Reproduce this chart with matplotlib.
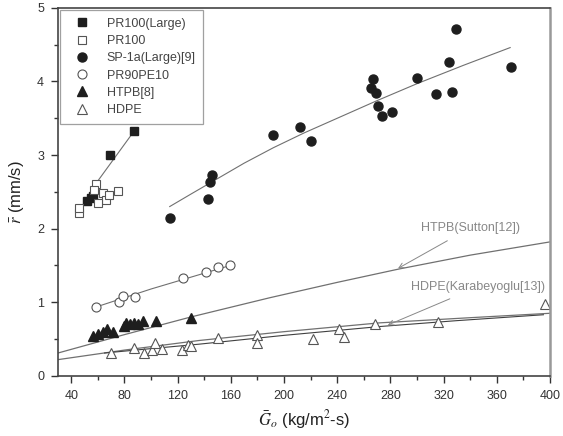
import matplotlib
matplotlib.use("Agg")
import matplotlib.pyplot as plt
from matplotlib.ticker import MultipleLocator

plt.rcParams['font.family'] = ['Liberation Sans', 'DejaVu Sans']
plt.rcParams['mathtext.fontset'] = 'stix'

# measured points (G_o in kg/m2-s, r in mm/s)
pr100_large_g = [52, 55, 56, 69, 87]
pr100_large_r = [2.37, 2.42, 2.44, 3.00, 3.32]

pr100_g = [45.5, 46, 58.6, 57.4, 63.6, 66, 60, 74.9, 68]
pr100_r = [2.21, 2.28, 2.60, 2.53, 2.49, 2.39, 2.35, 2.51, 2.46]

sp1a_g = [114, 143, 144, 146, 192, 212, 220, 265, 267, 269, 271, 274, 281,
          300, 314, 324, 326, 329, 371]
sp1a_r = [2.15, 2.40, 2.64, 2.73, 3.27, 3.38, 3.19, 3.91, 4.04, 3.84, 3.67,
          3.53, 3.59, 4.05, 3.83, 4.27, 3.85, 4.71, 4.19]

pr90_g = [58.6, 76, 79, 88, 124, 141, 150, 159]
pr90_r = [0.93, 1.00, 1.08, 1.07, 1.33, 1.41, 1.48, 1.50]

htpb_g = [56, 60, 64, 67, 71, 80, 81, 84, 87, 90, 94, 104, 130]
htpb_r = [0.54, 0.57, 0.59, 0.63, 0.59, 0.68, 0.72, 0.70, 0.72, 0.70, 0.74, 0.75, 0.78]

hdpe_g = [70, 87, 95, 101, 103, 108, 123, 128, 130, 150, 180, 180, 222, 241,
          245, 268, 316, 396]
hdpe_r = [0.31, 0.38, 0.31, 0.35, 0.44, 0.36, 0.35, 0.42, 0.40, 0.51, 0.56,
          0.44, 0.50, 0.64, 0.53, 0.71, 0.73, 0.97]

# fit / reference curves
fit_pr100_g = [56, 87]
fit_pr100_r = [2.55, 3.32]
fit_sp1a_g = [114, 130, 150, 170, 192, 215, 240, 270, 300, 335, 370]
fit_sp1a_r = [2.30, 2.47, 2.68, 2.89, 3.10, 3.30, 3.50, 3.74, 3.97, 4.22, 4.46]
fit_pr90_g = [56, 100, 161.5]
fit_pr90_r = [0.92, 1.18, 1.51]
sutton_g = [30, 80, 130, 189, 240, 286, 340, 400]
sutton_r = [0.31, 0.56, 0.80, 1.06, 1.27, 1.45, 1.64, 1.82]
karab_g = [30, 80, 136, 200, 272, 340, 400]
karab_r = [0.22, 0.35, 0.48, 0.60, 0.72, 0.79, 0.85]
fit_hdpe_g = [65, 100, 136, 200, 272, 330, 395]
fit_hdpe_r = [0.31, 0.37, 0.43, 0.55, 0.67, 0.75, 0.83]

fig = plt.figure(figsize=(5.63, 4.36), dpi=100)
ax = fig.add_axes([0.103, 0.138, 0.874, 0.844])

lc = '#707070'
mc = '#1e1e1e'
ax.plot(fit_pr100_g, fit_pr100_r, color=lc, lw=0.8)
ax.plot(fit_sp1a_g, fit_sp1a_r, color=lc, lw=0.8)
ax.plot(fit_pr90_g, fit_pr90_r, color=lc, lw=0.8)
ax.plot(sutton_g, sutton_r, color=lc, lw=0.9)
ax.plot(karab_g, karab_r, color=lc, lw=0.9)
ax.plot(fit_hdpe_g, fit_hdpe_r, color='#404040', lw=0.8)

ax.plot(pr100_large_g, pr100_large_r, 's', ms=6, color=mc, label='PR100(Large)')
ax.plot(pr100_g, pr100_r, 's', ms=6, mfc='white', mec='#555555', mew=0.8, label='PR100')
ax.plot(sp1a_g, sp1a_r, 'o', ms=6.5, color=mc, label='SP-1a(Large)[9]')
ax.plot(pr90_g, pr90_r, 'o', ms=6.5, mfc='white', mec='#555555', mew=0.8, label='PR90PE10')
ax.plot(htpb_g, htpb_r, '^', ms=7, color=mc, label='HTPB[8]')
ax.plot(hdpe_g, hdpe_r, '^', ms=7.5, mfc='white', mec='#555555', mew=0.8, label='HDPE')

ax.annotate('HTPB(Sutton[12])', xy=(285.7, 1.46), xytext=(340, 2.01),
            ha='center', va='center', fontsize=9, color='#888888',
            arrowprops=dict(arrowstyle='->', color='#888888', lw=0.7, shrinkA=6, shrinkB=0))
ax.annotate('HDPE(Karabeyoglu[13])', xy=(278, 0.69), xytext=(346, 1.21),
            ha='center', va='center', fontsize=9, color='#888888',
            arrowprops=dict(arrowstyle='->', color='#888888', lw=0.7, shrinkA=6, shrinkB=0))

ax.set_xlim(30, 400)
ax.set_ylim(0, 5)
ax.xaxis.set_major_locator(MultipleLocator(40))
ax.xaxis.set_minor_locator(MultipleLocator(20))
ax.yaxis.set_major_locator(MultipleLocator(1))
ax.yaxis.set_minor_locator(MultipleLocator(0.5))
ax.tick_params(which='major', direction='out', length=5, width=1, labelsize=9,
               colors='#333333', pad=5)
ax.tick_params(which='minor', direction='out', length=3, width=1, colors='#333333')

for side in ['left', 'bottom', 'top']:
    ax.spines[side].set_color('#444444')
    ax.spines[side].set_linewidth(1.2)
ax.spines['right'].set_color('#999999')
ax.spines['right'].set_linewidth(1.8)

ax.set_xlabel(r'$\bar{G}_o$ (kg/m$^2$-s)', fontsize=12, color='#222222', labelpad=5)
ax.set_ylabel(r'$\bar{r}$ (mm/s)', fontsize=12, color='#222222', labelpad=8)

leg = ax.legend(loc='upper left', fontsize=9, frameon=True, fancybox=False,
                edgecolor='#888888', borderpad=0.6, handletextpad=0.9,
                labelspacing=0.42, borderaxespad=0.2, handlelength=2.2)
leg.get_frame().set_linewidth(0.9)
leg.set_zorder(1)
for t in leg.get_texts():
    t.set_color('#444444')

fig.savefig('out.png', dpi=100)
